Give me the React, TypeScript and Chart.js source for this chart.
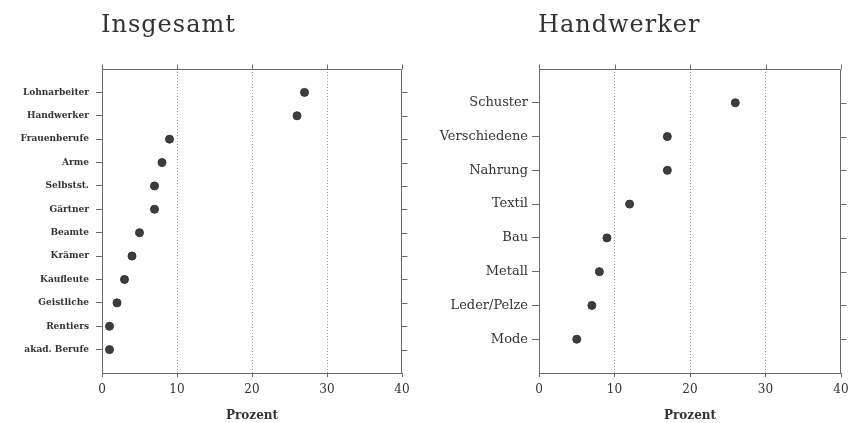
import React, { useEffect, useRef } from "react";
import { Chart, registerables } from "chart.js";

Chart.register(...registerables);

const totalCategories = [
  "Lohnarbeiter",
  "Handwerker",
  "Frauenberufe",
  "Arme",
  "Selbstst.",
  "Gärtner",
  "Beamte",
  "Krämer",
  "Kaufleute",
  "Geistliche",
  "Rentiers",
  "akad. Berufe",
];
const totalValues = [27, 26, 9, 8, 7, 7, 5, 4, 3, 2, 1, 1];

const craftCategories = [
  "Schuster",
  "Verschiedene",
  "Nahrung",
  "Textil",
  "Bau",
  "Metall",
  "Leder/Pelze",
  "Mode",
];
const craftValues = [26, 17, 17, 12, 9, 8, 7, 5];

const xTicks = [0, 10, 20, 30, 40];
const panelTitles = ["Insgesamt", "Handwerker"];
const xAxisTitle = "Prozent";

const AXIS_COLOR = "#6a6a6a";
const TEXT_COLOR = "#333";

type PanelProps = {
  categories: string[];
  values: number[];
  title: string;
  left: number;
  yAxisWidth: number;
  rightPad: number;
  titleX: number;
  labelFont: any;
  labelPadding: number;
  yTickLen: number;
};

const framePlugin = {
  id: "frame",
  afterDraw(chart: any, _args: any, opts: any) {
    const { ctx, chartArea, scales } = chart;
    const { left, right, top, bottom } = chartArea;
    ctx.save();
    ctx.strokeStyle = AXIS_COLOR;
    ctx.lineWidth = 1;
    const t = Math.round(top) + 0.5;
    const r = Math.round(right) - 0.5;
    ctx.beginPath();
    ctx.moveTo(left, t);
    ctx.lineTo(r, t);
    ctx.lineTo(r, bottom);
    ctx.stroke();
    // right-side ticks
    const ys = scales.y;
    ys.ticks.forEach((tk: any) => {
      const py = Math.round(ys.getPixelForValue(tk.value)) + 0.5;
      ctx.beginPath();
      ctx.moveTo(r, py);
      ctx.lineTo(r + 6, py);
      ctx.stroke();
    });
    // top ticks
    const xs = scales.x;
    xs.ticks.forEach((tk: any) => {
      const px = Math.round(xs.getPixelForValue(tk.value)) + 0.5;
      ctx.beginPath();
      ctx.moveTo(px, t);
      ctx.lineTo(px, t - 5);
      ctx.stroke();
    });
    // panel title
    ctx.fillStyle = TEXT_COLOR;
    ctx.font = '24px "DejaVu Serif"';
    (ctx as any).letterSpacing = "1px";
    ctx.textBaseline = "alphabetic";
    ctx.textAlign = "left";
    ctx.fillText(opts.text, opts.x, 32);
    ctx.restore();
  },
};

function DotPanel(p: PanelProps) {
  const ref = useRef<HTMLCanvasElement | null>(null);
  useEffect(() => {
    if (!ref.current) return;
    const n = p.categories.length;
    const chart = new Chart(ref.current, {
      type: "scatter",
      data: {
        datasets: [
          {
            data: p.values.map((v, i) => ({ x: v, y: n - i })),
            pointRadius: 4,
            pointHoverRadius: 4,
            backgroundColor: "#3d3d3d",
            borderColor: "#333",
            borderWidth: 1,
            showLine: false,
          },
        ],
      },
      options: {
        responsive: false,
        animation: false,
        devicePixelRatio: 1,
        layout: { padding: { top: 69, right: p.rightPad, left: 0, bottom: 0 } },
        plugins: {
          legend: { display: false },
          tooltip: { enabled: false },
          frame: { text: p.title, x: p.titleX },
        } as any,
        scales: {
          x: {
            type: "linear",
            min: 0,
            max: 40,
            afterBuildTicks: (scale: any) => {
              scale.ticks = xTicks.map((v) => ({ value: v }));
            },
            afterFit: (scale: any) => {
              scale.height = 50;
              scale.paddingLeft = 0;
              scale.paddingRight = 0;
            },
            ticks: {
              font: { family: "DejaVu Serif", size: 12 },
              color: TEXT_COLOR,
              padding: 6,
            },
            grid: {
              color: (c: any) =>
                c.tick && (c.tick.value === 0 || c.tick.value === 40)
                  ? "rgba(0,0,0,0)"
                  : "#9a9a9a",
              tickColor: AXIS_COLOR,
              tickLength: 4,
              drawTicks: true,
            },
            border: { display: true, color: AXIS_COLOR, dash: [1, 2] },
            title: {
              display: true,
              text: xAxisTitle,
              font: { family: "DejaVu Serif", size: 12, weight: "bold" },
              color: TEXT_COLOR,
              padding: { top: 0, bottom: 0 },
            },
          },
          y: {
            type: "linear",
            min: 0,
            max: n + 1,
            afterBuildTicks: (scale: any) => {
              scale.ticks = p.categories.map((_, i) => ({ value: n - i }));
            },
            afterFit: (scale: any) => {
              scale.width = p.yAxisWidth;
              scale.paddingTop = 0;
              scale.paddingBottom = 0;
            },
            ticks: {
              autoSkip: false,
              font: p.labelFont,
              color: TEXT_COLOR,
              padding: p.labelPadding,
              callback: (v: any) => p.categories[n - Number(v)],
            },
            grid: {
              drawOnChartArea: false,
              drawTicks: true,
              tickLength: p.yTickLen,
              color: AXIS_COLOR,
            },
            border: { display: true, color: AXIS_COLOR },
          },
        },
      },
      plugins: [framePlugin],
    } as any);
    return () => chart.destroy();
  }, []);
  return (
    <canvas
      ref={ref}
      width={425}
      height={423}
      style={{ position: "absolute", left: p.left, top: 0, width: 425, height: 423 }}
    />
  );
}

export default function App() {
  return (
    <div
      style={{
        position: "absolute",
        left: 0,
        top: 0,
        width: 850,
        height: 423,
        background: "#fff",
        overflow: "hidden",
      }}
    >
      <DotPanel
        categories={totalCategories}
        values={totalValues}
        title={panelTitles[0]}
        left={0}
        yAxisWidth={102}
        rightPad={23}
        titleX={101}
        labelFont={{ family: "DejaVu Serif", size: 9, weight: "bold" }}
        labelPadding={7}
        yTickLen={6}
      />
      <DotPanel
        categories={craftCategories}
        values={craftValues}
        title={panelTitles[1]}
        left={425}
        yAxisWidth={114}
        rightPad={9}
        titleX={113}
        labelFont={{ family: "DejaVu Serif", size: 13 }}
        labelPadding={4}
        yTickLen={7}
      />
    </div>
  );
}
